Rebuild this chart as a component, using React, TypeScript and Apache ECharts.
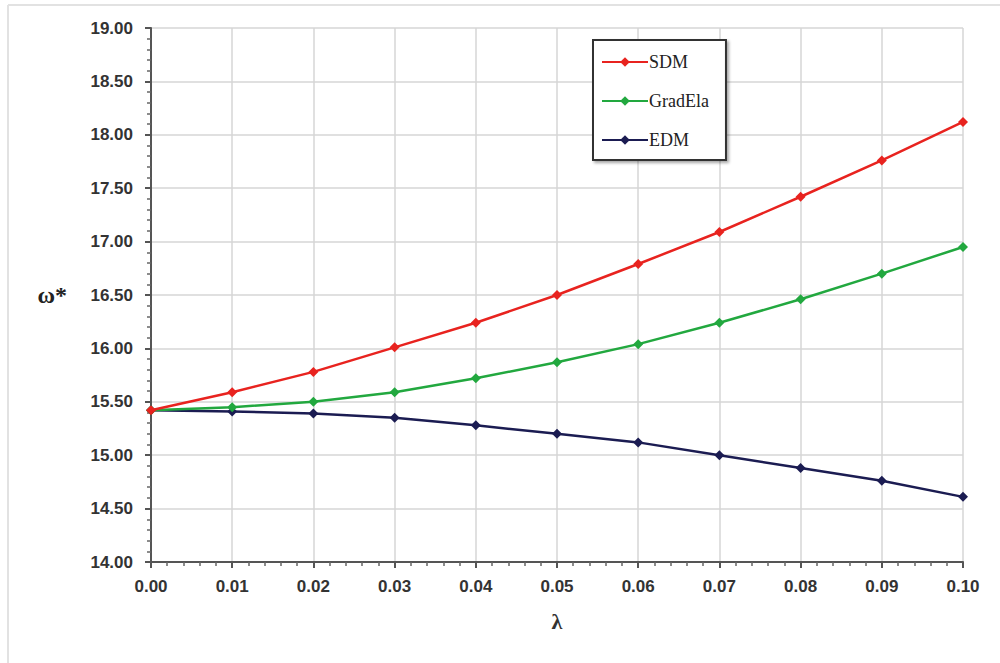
import React, { useEffect, useRef } from "react";
import * as echarts from "echarts";

const lambdas = [0, 0.01, 0.02, 0.03, 0.04, 0.05, 0.06, 0.07, 0.08, 0.09, 0.1];
const sdm = [15.42, 15.59, 15.78, 16.01, 16.24, 16.5, 16.79, 17.09, 17.42, 17.76, 18.12];
const gradEla = [15.42, 15.45, 15.5, 15.59, 15.72, 15.87, 16.04, 16.24, 16.46, 16.7, 16.95];
const edm = [15.42, 15.41, 15.39, 15.35, 15.28, 15.2, 15.12, 15.0, 14.88, 14.76, 14.61];

const seriesNames = ["SDM", "GradEla", "EDM"];
const seriesColors = ["#e8231f", "#22a83f", "#1b1c52"];

export default function App() {
  const ref = useRef<HTMLDivElement>(null);
  useEffect(() => {
    if (!ref.current) return;
    const chart = echarts.init(ref.current, undefined, { renderer: "svg" });
    const datasets = [sdm, gradEla, edm];
    const tickFont = {
      fontFamily: "Liberation Sans",
      fontWeight: "bold" as const,
      fontSize: 17,
      color: "#333",
    };
    chart.setOption({
      animation: false,
      backgroundColor: "#fff",
      grid: { left: 151, top: 28, right: 37, bottom: 101, containLabel: false },
      graphic: [
        { type: "line", shape: { x1: 8, y1: 5, x2: 1000, y2: 5 }, style: { stroke: "#e2e2e2", lineWidth: 2 } },
        { type: "line", shape: { x1: 8, y1: 5, x2: 8, y2: 663 }, style: { stroke: "#e2e2e2", lineWidth: 2 } },
      ],
      legend: {
        orient: "vertical",
        left: 593,
        top: 40,
        padding: [13, 17, 11, 8],
        itemWidth: 46,
        itemHeight: 12,
        itemGap: 21,
        borderColor: "#333",
        borderWidth: 2,
        backgroundColor: "#fff",
        shadowColor: "rgba(0,0,0,0.35)",
        shadowBlur: 3,
        shadowOffsetX: 2,
        shadowOffsetY: 2,
        textStyle: { fontFamily: "Liberation Serif", fontSize: 18, color: "#222", padding: [0, 0, 0, -4] },
        data: seriesNames,
      },
      xAxis: {
        type: "value",
        min: 0,
        max: 0.1,
        interval: 0.01,
        name: "λ",
        nameLocation: "middle",
        nameGap: 48,
        nameTextStyle: { fontFamily: "Liberation Serif", fontWeight: "bold", fontSize: 22, color: "#333" },
        axisLine: { show: true, lineStyle: { color: "#555", width: 2 } },
        axisTick: { show: true, length: 6, lineStyle: { color: "#555", width: 2 } },
        minorTick: { show: true, splitNumber: 5, length: 4, lineStyle: { color: "#666", width: 1.5 } },
        axisLabel: { ...tickFont, margin: 16, formatter: (v: number) => v.toFixed(2) },
        splitLine: { show: true, lineStyle: { color: "#d6d6d6", width: 1.5 } },
      },
      yAxis: {
        type: "value",
        min: 14,
        max: 19,
        interval: 0.5,
        name: "ω*",
        nameLocation: "middle",
        nameRotate: 0,
        nameGap: 84,
        nameTextStyle: { fontFamily: "Liberation Serif", fontWeight: "bold", fontSize: 24, color: "#222" },
        axisLine: { show: true, lineStyle: { color: "#555", width: 2 } },
        axisTick: { show: true, length: 6, lineStyle: { color: "#555", width: 2 } },
        minorTick: { show: true, splitNumber: 5, length: 4, lineStyle: { color: "#666", width: 1.5 } },
        axisLabel: { ...tickFont, margin: 18, formatter: (v: number) => v.toFixed(2) },
        splitLine: { show: true, lineStyle: { color: "#d6d6d6", width: 1.5 } },
      },
      series: seriesNames.map((name, i) => ({
        name,
        type: "line",
        data: lambdas.map((x, j) => [x, datasets[i][j]]),
        symbol: "diamond",
        symbolSize: 10,
        lineStyle: { color: seriesColors[i], width: 2.5 },
        itemStyle: { color: seriesColors[i] },
        z: 3 - i + 2,
      })),
    });
    return () => chart.dispose();
  }, []);
  return (
    <div
      ref={ref}
      style={{ position: "fixed", left: 0, top: 0, width: 1000, height: 663 }}
    />
  );
}
